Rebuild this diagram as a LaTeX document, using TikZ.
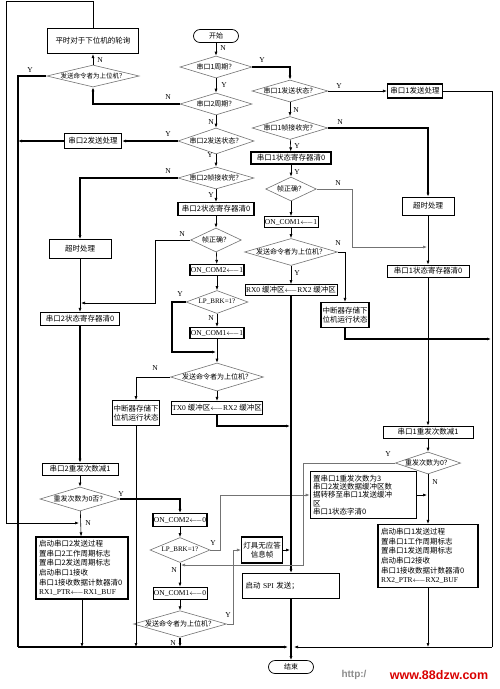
\documentclass[tikz,border=0pt]{standalone}
\usepackage{fontspec}
\setmainfont{Liberation Serif}
\newfontfamily\cjk{Noto Sans CJK SC}
\usepackage{tikz}
\usetikzlibrary{shapes.geometric,arrows.meta}
\newcommand{\getsarr}{\ensuremath{\longleftarrow}}
\tikzset{
  box/.style    = {draw=black, line width=1.1pt, fill=white, inner sep=1pt, font=\cjk\fontsize{7.5}{8}\selectfont},
  boxt/.style   = {draw=black, line width=0.6pt, fill=white, inner sep=1pt, font=\cjk\fontsize{7.5}{8}\selectfont},
  multi/.style  = {align=left, inner sep=3pt, font=\cjk\fontsize{7.5}{9.6}\selectfont},
  latb/.style   = {font=\rmfamily\fontsize{7.5}{8}\selectfont},
  dia/.style    = {diamond, draw=black!55, line width=0.6pt, fill=white, inner sep=0pt, shape aspect=3.5, font=\cjk\fontsize{7}{7}\selectfont},
  term/.style   = {draw=black, line width=0.7pt, fill=white, rounded corners=6.5pt, minimum width=45pt, minimum height=13pt, inner sep=0pt, font=\cjk\fontsize{7}{8}\selectfont},
  yn/.style     = {inner sep=0pt, font=\rmfamily\fontsize{7.5}{8}\selectfont},
  flow/.style   = {draw=black, line width=0.6pt},
  flowb/.style  = {draw=black, line width=1.2pt},
  flowg/.style  = {draw=black!55, line width=0.6pt},
  arr/.style    = {-{Latex[length=4pt,width=3pt]}},
}

\begin{document}
\begin{tikzpicture}[x=1pt,y=-1pt]
  \useasboundingbox (0,0) rectangle (500,689);

  % ---- centre column: serial port 2 ----
  \node[term] (start) at (216,36) {开始};
  \node[dia, minimum width=72pt, minimum height=22pt] (p1cyc) at (216,67) {串口1周期？};
  \node[dia, minimum width=72pt, minimum height=22pt] (p2cyc) at (216,104) {串口2周期？};
  \node[dia, minimum width=76pt, minimum height=26pt] (p2st) at (216,141) {串口2发送状态？};
  \node[dia, minimum width=76pt, minimum height=22pt] (p2rx) at (216,178) {串口2帧接收完？};
  \node[box, minimum width=76pt, minimum height=13pt] (s2clr) at (216,209) {串口2状态寄存器清0};
  \node[dia, minimum width=48pt, minimum height=24pt] (ok2) at (216,240) {帧正确？};
  \node[box, latb, minimum width=50pt, minimum height=11pt] (on2) at (217,270) {ON\_COM2\getsarr 1};
  \node[dia, font=\rmfamily\fontsize{7}{7}\selectfont, minimum width=62pt, minimum height=23pt] (brk2) at (217,302) {LP\_BRK=1?};
  \node[box, latb, minimum width=50pt, minimum height=11pt] (on1) at (217,333) {ON\_COM1\getsarr 1};
  \node[dia, minimum width=91pt, minimum height=28pt] (askC) at (217,377) {发送命令者为上位机？};
  \node[box, minimum width=89pt, minimum height=13pt] (tx0) at (217,408) {{\rmfamily TX0 }缓冲区\getsarr{\rmfamily RX2 }缓冲区};
  \node[boxt, align=center, font=\cjk\fontsize{7.5}{9.5}\selectfont, minimum width=47pt, minimum height=25pt] (int2) at (136,413) {中断器存储下\\位机运行状态};

  % ---- left column ----
  \node[box, minimum width=91pt, minimum height=25pt] (poll) at (93,41) {平时对于下位机的轮询};
  \node[dia, shape aspect=4.5, font=\cjk\fontsize{6.5}{7}\selectfont, minimum width=91pt, minimum height=22pt] (askA) at (93,76) {发送命令者为上位机？};
  \node[box, minimum width=57pt, minimum height=15pt] (s2tx) at (93,141) {串口2发送处理};
  \node[boxt, minimum width=62pt, minimum height=19pt] (to2) at (80,249) {超时处理};
  \node[box, minimum width=79pt, minimum height=13pt] (s2clr2) at (80,319) {串口2状态寄存器清0};
  \node[boxt, minimum width=76pt, minimum height=12pt] (s2dec) at (80,469) {串口2重发次数减1};
  \node[dia, minimum width=80pt, minimum height=24pt] (rtyB) at (80,499) {重发次数为0否？};
  \node[box, multi, text width=86pt, minimum height=62pt] (s2go) at (82,568) {启动串口2发送过程\\置串口2工作周期标志\\置串口2发送周期标志\\启动串口1接收\\串口1接收数据计数器清0\\{\rmfamily RX1\_PTR\getsarr RX1\_BUF}};

  % ---- lower centre ----
  \node[box, latb, minimum width=48pt, minimum height=13pt] (oc20) at (180,520) {ON\_COM2\getsarr 0};
  \node[dia, font=\rmfamily\fontsize{7}{7}\selectfont, minimum width=60pt, minimum height=25pt] (brk0) at (180,550) {LP\_BRK=1?};
  \node[boxt, latb, minimum width=50pt, minimum height=12pt] (oc10) at (180,593) {ON\_COM1\getsarr 0};
  \node[dia, minimum width=90pt, minimum height=26pt] (askD) at (180,624) {发送命令者为上位机？};
  \node[box, align=center, font=\cjk\fontsize{7.5}{9.5}\selectfont, minimum width=41pt, minimum height=26pt] (lamp) at (262,550) {灯具无应答\\信息帧};
  \node[box, align=left, text width=91pt, inner sep=3pt, minimum height=25pt] (spi) at (291,586) {启动{\rmfamily\ SPI }发送；};
  \node[term] (end) at (291,667) {结束};

  % ---- right columns: serial port 1 ----
  \node[dia, minimum width=76pt, minimum height=22pt] (p1st) at (290,91) {串口1发送状态？};
  \node[box, minimum width=55pt, minimum height=14pt] (s1tx) at (415,91) {串口1发送处理};
  \node[dia, minimum width=74pt, minimum height=23pt] (p1rx) at (290,128) {串口1帧接收完？};
  \node[box, minimum width=80pt, minimum height=12pt] (s1clr) at (291,158) {串口1状态寄存器清0};
  \node[dia, minimum width=48pt, minimum height=24pt] (ok1) at (291,189) {帧正确？};
  \node[boxt, latb, minimum width=49pt, minimum height=11pt] (on1b) at (291,222) {ON\_COM1\getsarr 1};
  \node[dia, minimum width=92pt, minimum height=27pt] (askB) at (291,252) {发送命令者为上位机？};
  \node[boxt, minimum width=86pt, minimum height=11pt] (rx0) at (291,290) {{\rmfamily RX0 }缓冲区\getsarr{\rmfamily RX2 }缓冲区};
  \node[box, align=center, font=\cjk\fontsize{7.5}{9.5}\selectfont, minimum width=48pt, minimum height=25pt] (int1) at (345,315) {中断器存储下\\位机运行状态};
  \node[boxt, minimum width=52pt, minimum height=18pt] (to1) at (428,206) {超时处理};
  \node[boxt, minimum width=82pt, minimum height=12pt] (s1clr2) at (428,271) {串口1状态寄存器清0};
  \node[boxt, minimum width=90pt, minimum height=12pt] (s1dec) at (428,432) {串口1重发次数减1};
  \node[dia, shape aspect=3, minimum width=62pt, minimum height=22pt] (rtyC) at (428,463) {重发次数为0？};
  \node[boxt, multi, font=\cjk\fontsize{7.5}{8.4}\selectfont, text width=100pt, minimum height=46pt] (set3) at (363,495) {置串口1重发次数为3\\串口2发送数据缓冲区数\\据转移至串口1发送缓冲\\区\\串口1状态字清0};
  \node[box, multi, text width=94pt, minimum height=63pt] (s1go) at (428,556) {启动串口1发送过程\\置串口1工作周期标志\\置串口1发送周期标志\\启动串口2接收\\串口1接收数据计数器清0\\{\rmfamily RX2\_PTR\getsarr RX2\_BUF}};

  % bends and merge points
  \coordinate (tL) at (6,1);
  \coordinate (mGo2) at (79,523);
  \coordinate (bL) at (18,647);
  \coordinate (bR) at (492,647);
  \coordinate (bIn) at (288,647);
  \coordinate (bIn2) at (294,647);
  \coordinate (k2) at (155,240);
  \coordinate (mTo2) at (81,303);
  \coordinate (k3) at (172,302);
  \coordinate (mLp1) at (216,352);
  \coordinate (mTx) at (290,426);
  \coordinate (k5) at (220,550);
  \coordinate (k6) at (233,624);
  \coordinate (mLamp) at (290,550);
  \coordinate (k7) at (352,189);
  \coordinate (mTo1) at (427,247);
  \coordinate (mInt1) at (491,339);
  \coordinate (k8) at (303,463);
  \coordinate (mRetry) at (181,565);
  \coordinate (mSet3) at (427,495);

  % connectors, centre
  \draw[flow,arr] (start) -- (p1cyc);
  \draw[flowb,arr] (p1cyc.east) -| (p1st.north);
  \draw[flow,arr] (p1cyc) -- (p2cyc);
  \draw[flowb,arr] (p2cyc.west) -| (askA.south);
  \draw[flow,arr] (p2cyc) -- (p2st);
  \draw[flowb,arr] (p2st.west) -- (s2tx.east);
  \draw[flow,arr] (p2st) -- (p2rx);
  \draw[flowb,arr] (p2rx.west) -| (to2.north);
  \draw[flow,arr] (p2rx) -- (s2clr);
  \draw[flow,arr] (s2clr) -- (ok2);
  \draw[flow,arr] (ok2.west) -- (k2) |- (mTo2);
  \draw[flow,arr] (ok2) -- (on2);
  \draw[flow,arr] (on2) -- (brk2);
  \draw[flowb,arr] (brk2.west) -- (k3) |- (mLp1);
  \draw[flow,arr] (brk2) -- (on1);
  \draw[flow,arr] (on1) -- (askC);
  \draw[flow,arr] (askC.west) -| (int2.north);
  \draw[flow,arr] (askC) -- (tx0);
  \draw[flowb,arr] (tx0.south) |- (mTx);
  \draw[flow,arr] (int2.south) -- (int2.south |- bL);

  % connectors, left
  \draw[flow,arr] (askA) -- (poll);
  \draw[flowb] (askA.west) -| (bL);
  \draw[flowb,arr] (s2tx.west) -- (s2tx.west -| bL);
  \draw[flow,arr] (poll.north) |- (tL) |- (mGo2);
  \draw[flow,arr] (to2) -- (s2clr2);
  \draw[flowb,arr] (s2clr2) -- (s2dec);
  \draw[flow,arr] (s2dec) -- (rtyB);
  \draw[flowb,arr] (rtyB.east) -| (oc20.north);
  \draw[flow,arr] (rtyB) -- (s2go);
  \draw[flow,arr] (s2go.south) -- (s2go.south |- bL);

  % connectors, lower centre
  \draw[flow,arr] (oc20) -- (brk0);
  \draw[flowg,arr] (brk0.east) -- (k5) |- (set3.west);
  \draw[flow,arr] (brk0) -- (oc10);
  \draw[flow,arr] (oc10) -- (askD);
  \draw[flowb,arr] (askD.south) -- (askD.south |- bL);
  \draw[flowg,arr] (askD.east) -- (k6) |- (lamp.west);
  \draw[flow,arr] (lamp.east) -- (mLamp);

  % connectors, right
  \draw[flow,arr] (p1st.east) -- (s1tx.west);
  \draw[flow] (s1tx.east) -| (bR);
  \draw[flow,arr] (p1st) -- (p1rx);
  \draw[flowb,arr] (p1rx.east) -| (to1.north);
  \draw[flow,arr] (p1rx) -- (s1clr);
  \draw[flow,arr] (s1clr) -- (ok1);
  \draw[flowg,arr] (ok1.east) -- (k7) |- (mTo1);
  \draw[flow,arr] (ok1) -- (on1b);
  \draw[flow,arr] (on1b) -- (askB);
  \draw[flow,arr] (askB.east) -| (int1.north);
  \draw[flow,arr] (askB) -- (rx0);
  \draw[flowb,arr] (rx0) -- (spi);
  \draw[flowb,arr] (int1.south) |- (mInt1);
  \draw[flow,arr] (to1) -- (s1clr2);
  \draw[flow,arr] (s1clr2) -- (s1dec);
  \draw[flow,arr] (s1dec) -- (rtyC);
  \draw[flowg,arr] (rtyC.west) -- (k8) |- (mRetry);
  \draw[flow,arr] (rtyC) -- (s1go);
  \draw[flow,arr] (set3.east) -- (mSet3);
  \draw[flow,arr] (s1go.south) -- (s1go.south |- bR);

  % bottom collector
  \draw[flowb,arr] (bL) -- (bIn);
  \draw[flow,arr] (bR) -- (bIn2);
  \draw[flowb,arr] (spi) -- (end);

  % Y / N labels
  \foreach \t/\x/\y [count=\i] in {N/223/48, Y/262/60, Y/224/85, N/168/97, N/211/122,
      Y/168/134, Y/210/155, N/168/171, Y/211/195, N/182/234, Y/180/294, N/211/318,
      N/155/368, N/100/60, Y/30/70, Y/121/494, N/88/523, Y/213/543, N/174/570,
      Y/228/615, N/173/643, Y/339/86, N/296/110, N/340/122, Y/297/146, Y/297/172,
      N/338/183, N/338/243, Y/297/273, Y/388/454, N/435/482} {
    \node[yn] (lab\i) at (\x,\y) {\t};
  }

  % site mark
  \node[inner sep=0pt, text=black!45, font=\fontspec{Liberation Sans Bold}\fontsize{10}{10}\selectfont] (mkA) at (354,675) {http:/};
  \node[inner sep=0pt, text=red!85!black, font=\fontspec{Liberation Sans Bold}\fontsize{12.5}{12}\selectfont] (mkB) at (439,675) {www.88dzw.com};
\end{tikzpicture}
\end{document}
